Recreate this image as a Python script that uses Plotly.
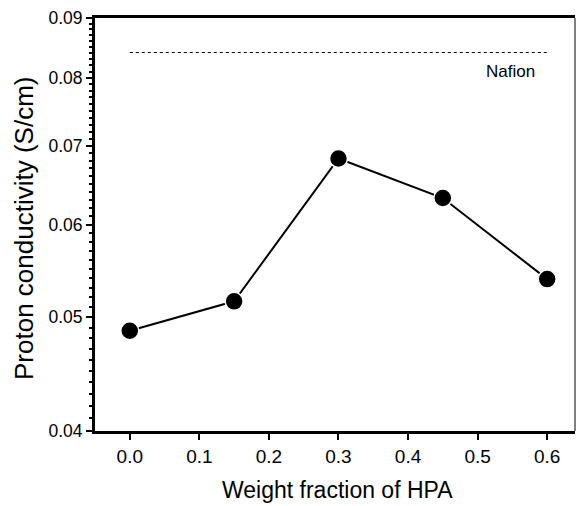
import numpy as np
import plotly.graph_objects as go

hpa_fraction = [0.0, 0.15, 0.30, 0.45, 0.60]
conductivity = [0.0487, 0.0516, 0.0683, 0.0632, 0.0539]
nafion_x = [0.0, 0.6]
nafion_value = [0.0841, 0.0841]
y_ticks = [0.04, 0.05, 0.06, 0.07, 0.08, 0.09]
y_minor = [round(0.04 + 0.001 * i, 3) for i in range(1, 50) if i % 10 != 0]
x_ticks = [0.0, 0.1, 0.2, 0.3, 0.4, 0.5, 0.6]

font = "Liberation Sans, Arial, sans-serif"

fig = go.Figure()
fig.add_trace(go.Scatter(x=nafion_x, y=nafion_value, mode="lines",
                         line=dict(color="black", width=1, dash="dot"),
                         showlegend=False, hoverinfo="skip"))
fig.add_trace(go.Scatter(x=hpa_fraction, y=conductivity, mode="lines+markers",
                         line=dict(color="black", width=2),
                         marker=dict(color="black", size=18, line=dict(color="white", width=1.5)),
                         showlegend=False))
fig.add_annotation(x=0.6, y=np.log10(0.0841), xref="x", yref="y", text="Nafion",
                   showarrow=False, xanchor="right", yanchor="middle", yshift=-19, xshift=-10,
                   font=dict(family=font, size=17, color="black"))
fig.add_annotation(x=0.506, y=-0.143, xref="paper", yref="paper", text="Weight fraction of HPA",
                   showarrow=False, xanchor="center", yanchor="middle",
                   font=dict(family=font, size=23, color="black"))
fig.add_annotation(x=-0.148, y=0.4915, xref="paper", yref="paper", text="Proton conductivity (S/cm)",
                   showarrow=False, xanchor="center", yanchor="middle", textangle=-90,
                   font=dict(family=font, size=26, color="black"))
fig.add_shape(type="line", xref="paper", yref="paper", x0=1, x1=1, y0=0, y1=1,
              line=dict(color="black", width=1))

fig.update_layout(
    width=582, height=506,
    margin=dict(l=95, r=7, t=18, b=75),
    plot_bgcolor="white", paper_bgcolor="white",
    font=dict(family=font, color="black"),
    xaxis=dict(range=[-0.05, 0.64], tickvals=x_ticks,
               ticktext=[f"{v:.1f}" for v in x_ticks],
               showline=True, linewidth=3, linecolor="black", mirror=True,
               ticks="outside", ticklen=6, tickwidth=2, tickcolor="black",
               showgrid=False, zeroline=False,
               tickfont=dict(size=19, family=font)),
    yaxis=dict(type="log", range=[np.log10(0.04), np.log10(0.09)],
               tickvals=y_ticks, ticktext=[f"{v:.2f}" for v in y_ticks],
               showline=True, linewidth=3, linecolor="black",
               ticks="outside", ticklen=6, tickwidth=2, tickcolor="black",
               minor=dict(tickvals=y_minor, ticks="outside", ticklen=3, tickwidth=1.5,
                          tickcolor="black", showgrid=False),
               showgrid=False, zeroline=False,
               tickfont=dict(size=17.5, family=font)),
)

fig.write_html("out.html", config={"displayModeBar": False},
               post_script="document.body.style.margin='0';document.body.style.overflow='hidden';")
